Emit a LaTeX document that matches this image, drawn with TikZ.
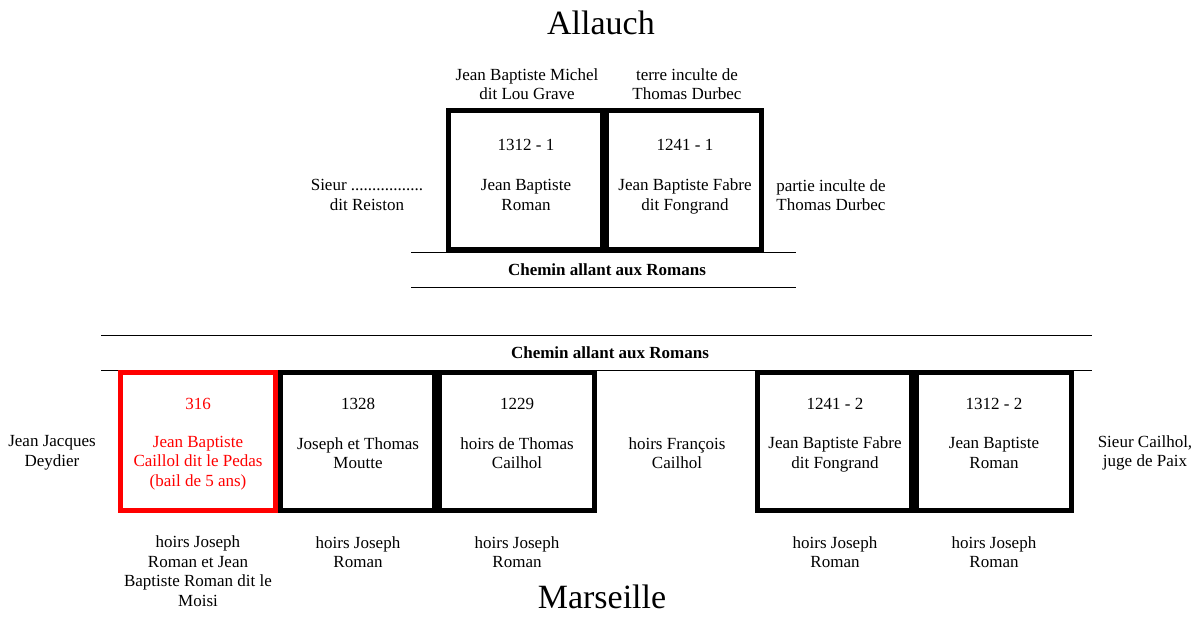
\documentclass[tikz,border=0pt]{standalone}
\usepackage{fontspec}
\setmainfont{Liberation Serif}
\begin{document}
\begin{tikzpicture}[x=1pt,y=-1pt,
  lbl/.style={font=\fontsize{17}{19.5}\selectfont, align=center, inner sep=0pt},
  redlbl/.style={lbl, text={rgb,255:red,255;green,0;blue,0}},
  road/.style={font=\bfseries\fontsize{17}{19.5}\selectfont, inner sep=0pt},
  title/.style={font=\fontsize{34}{36}\selectfont, inner sep=0pt},
  parcel/.style={draw=black, line width=5pt},
  redparcel/.style={draw={rgb,255:red,255;green,0;blue,0}, line width=5pt},
  roadline/.style={draw=black, line width=1pt}]
\useasboundingbox (0,0) rectangle (1199,616);
% titles
\node[title] (allauch) at (601,23) {Allauch};
\node[title] (marseille) at (602,597) {Marseille};
% top parcels
\draw[parcel] (448.5,110.5) rectangle (602.5,249.5);
\draw[parcel] (606.5,110.5) rectangle (761.5,249.5);
\node[lbl] (t1num) at (526,145) {1312 - 1};
\node[lbl] (t1own) at (526,195) {Jean Baptiste\\Roman};
\node[lbl] (t2num) at (685,145) {1241 - 1};
\node[lbl] (t2own) at (685,196.5) {Jean Baptiste Fabre\\dit Fongrand};
\node[lbl] (tn1) at (527,84) {Jean Baptiste Michel\\dit Lou Grave};
\node[lbl] (tn2) at (687,84) {terre inculte de\\Thomas Durbec};
\node[lbl] (tw) at (367,195) {Sieur .................\\dit Reiston};
\node[lbl] (te) at (831,195) {partie inculte de\\Thomas Durbec};
% top road
\coordinate (r1a) at (411,252); \coordinate (r1b) at (796,252);
\coordinate (r2a) at (411,287); \coordinate (r2b) at (796,287);
\draw[roadline] (r1a) -- (r1b);
\draw[roadline] (r2a) -- (r2b);
\node[road] (road1) at (607,270) {Chemin allant aux Romans};
% lower road
\coordinate (r3a) at (101,335); \coordinate (r3b) at (1092,335);
\coordinate (r4a) at (101,370); \coordinate (r4b) at (1092,370);
\draw[roadline] (r3a) -- (r3b);
\draw[roadline] (r4a) -- (r4b);
\node[road] (road2) at (610,353) {Chemin allant aux Romans};
% lower parcels
\draw[redparcel] (120.5,372.5) rectangle (275.5,510.5);
\draw[parcel] (280.5,372.5) rectangle (434.5,510.5);
\draw[parcel] (439.5,372.5) rectangle (594.5,510.5);
\draw[parcel] (757.5,372.5) rectangle (911.5,510.5);
\draw[parcel] (916.5,372.5) rectangle (1071.5,510.5);
\node[redlbl] (b1num) at (198,404) {316};
\node[redlbl] (b1own) at (198,463) {Jean Baptiste\\Caillol dit le Pedas\\(bail de 5 ans)};
\node[lbl] (b2num) at (358,404) {1328};
\node[lbl] (b2own) at (358,453) {Joseph et Thomas\\Moutte};
\node[lbl] (b3num) at (517,404) {1229};
\node[lbl] (b3own) at (517,453) {hoirs de Thomas\\Cailhol};
\node[lbl] (gap) at (677,453) {hoirs François\\Cailhol};
\node[lbl] (b4num) at (835,404) {1241 - 2};
\node[lbl] (b4own) at (835,454.5) {Jean Baptiste Fabre\\dit Fongrand};
\node[lbl] (b5num) at (994,404) {1312 - 2};
\node[lbl] (b5own) at (994,453) {Jean Baptiste\\Roman};
\node[lbl] (bw) at (52,453) {Jean Jacques\\Deydier};
\node[lbl] (be) at (1145,453) {Sieur Cailhol,\\juge de Paix};
% below
\node[lbl] (s1) at (198,571) {hoirs Joseph\\Roman et Jean\\Baptiste Roman dit le\\Moisi};
\node[lbl] (s2) at (358,552) {hoirs Joseph\\Roman};
\node[lbl] (s3) at (517,552) {hoirs Joseph\\Roman};
\node[lbl] (s4) at (835,552) {hoirs Joseph\\Roman};
\node[lbl] (s5) at (994,552) {hoirs Joseph\\Roman};
\end{tikzpicture}
\end{document}
